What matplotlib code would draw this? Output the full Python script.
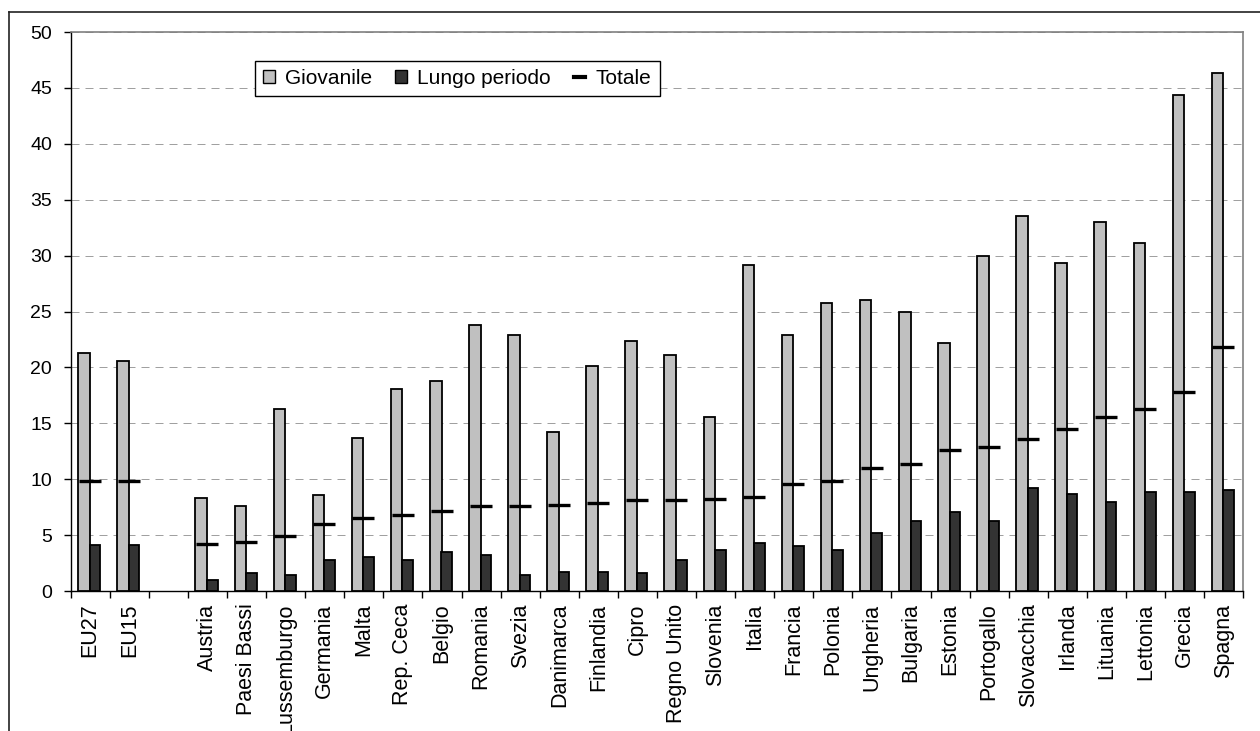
import numpy as np
import matplotlib
matplotlib.use('Agg')
import matplotlib.pyplot as plt
from matplotlib.lines import Line2D
from matplotlib.patches import Patch

plt.rcParams['font.family'] = ['Liberation Sans', 'DejaVu Sans']

"""Data."""
nan = np.nan
paesi = ['EU27', 'EU15', '', 'Austria', 'Paesi Bassi', 'Lussemburgo', 'Germania', 'Malta',
         'Rep. Ceca', 'Belgio', 'Romania', 'Svezia', 'Danimarca', 'Finlandia', 'Cipro',
         'Regno Unito', 'Slovenia', 'Italia', 'Francia', 'Polonia', 'Ungheria', 'Bulgaria',
         'Estonia', 'Portogallo', 'Slovacchia', 'Irlanda', 'Lituania', 'Lettonia', 'Grecia',
         'Spagna']
giovanile = [21.3, 20.6, nan, 8.3, 7.6, 16.3, 8.6, 13.7, 18.1, 18.8, 23.8, 22.9, 14.2, 20.1,
             22.4, 21.1, 15.6, 29.2, 22.9, 25.8, 26.0, 25.0, 22.2, 30.0, 33.5, 29.3, 33.0,
             31.1, 44.4, 46.3]
lungo = [4.1, 4.1, nan, 1.0, 1.6, 1.4, 2.8, 3.0, 2.8, 3.5, 3.2, 1.4, 1.7, 1.7, 1.6, 2.8, 3.7,
         4.3, 4.0, 3.7, 5.2, 6.3, 7.1, 6.3, 9.2, 8.7, 8.0, 8.9, 8.9, 9.0]
totale = [9.8, 9.8, nan, 4.2, 4.4, 4.9, 6.0, 6.5, 6.8, 7.2, 7.6, 7.6, 7.7, 7.9, 8.1, 8.1, 8.2,
          8.4, 9.6, 9.8, 11.0, 11.4, 12.6, 12.9, 13.6, 14.5, 15.6, 16.3, 17.8, 21.8]
y_ticks = [0, 5, 10, 15, 20, 25, 30, 35, 40, 45, 50]

"""Plot."""
fig = plt.figure(figsize=(12.6, 7.31), dpi=100)
ax = fig.add_axes([0.0561, 0.1915, 0.9306, 0.7647])

x = np.arange(len(paesi))
ax.bar(x - 0.16, giovanile, width=0.295, color='#c0c0c0', edgecolor='black', linewidth=1.3, zorder=3)
ax.bar(x + 0.122, lungo, width=0.27, color='#333333', edgecolor='black', linewidth=1.3, zorder=3)
ax.plot(x - 0.01, totale, linestyle='none', marker='_', markersize=15.4,
        markeredgewidth=2.4, color='black', zorder=4)

ax.set_xlim(-0.5, len(paesi) - 0.5)
ax.set_ylim(0, 50)
ax.set_yticks(y_ticks)
ax.set_yticklabels([str(v) for v in y_ticks], fontsize=14)
ax.tick_params(axis='y', length=5, width=1, pad=8.5, direction='out')

ax.set_xticks(x)
ax.set_xticklabels(paesi, rotation=90, fontsize=15.5, va='top', ha='center')
ax.tick_params(axis='x', which='major', length=0, pad=9)
ax.set_xticks(np.arange(len(paesi) + 1) - 0.5, minor=True)
ax.tick_params(axis='x', which='minor', length=5, width=1, direction='out')

ax.yaxis.grid(True, color='#a0a0a0', linewidth=0.72, linestyle=(0, (8, 6)))
ax.set_axisbelow(True)
for s in ['top', 'right']:
    ax.spines[s].set_color('#808080')
    ax.spines[s].set_linewidth(1.2)
for s in ['left', 'bottom']:
    ax.spines[s].set_color('black')
    ax.spines[s].set_linewidth(1.0)

handles = [Patch(facecolor='#c0c0c0', edgecolor='black', linewidth=1.0),
           Patch(facecolor='#333333', edgecolor='black', linewidth=1.0),
           Line2D([0], [0], color='black', linewidth=3)]
leg = fig.legend(handles, ['Giovanile', 'Lungo periodo', 'Totale'], ncol=3,
                 loc='upper left', bbox_to_anchor=(0.2024, 0.917), borderaxespad=0,
                 fontsize=15, frameon=True, fancybox=False, framealpha=1,
                 edgecolor='black', handlelength=0.55, handleheight=0.55,
                 handletextpad=0.5, columnspacing=1.1, borderpad=0.4)
leg.get_frame().set_linewidth(1.0)

# outer frame of the chart area
fig.add_artist(Line2D([0.0069, 0.0069], [0, 0.9836], color='#222222', linewidth=1.2,
                      transform=fig.transFigure))
fig.add_artist(Line2D([0.0069, 1], [0.9836, 0.9836], color='#222222', linewidth=1.2,
                      transform=fig.transFigure))

fig.savefig('out.png', dpi=100)
